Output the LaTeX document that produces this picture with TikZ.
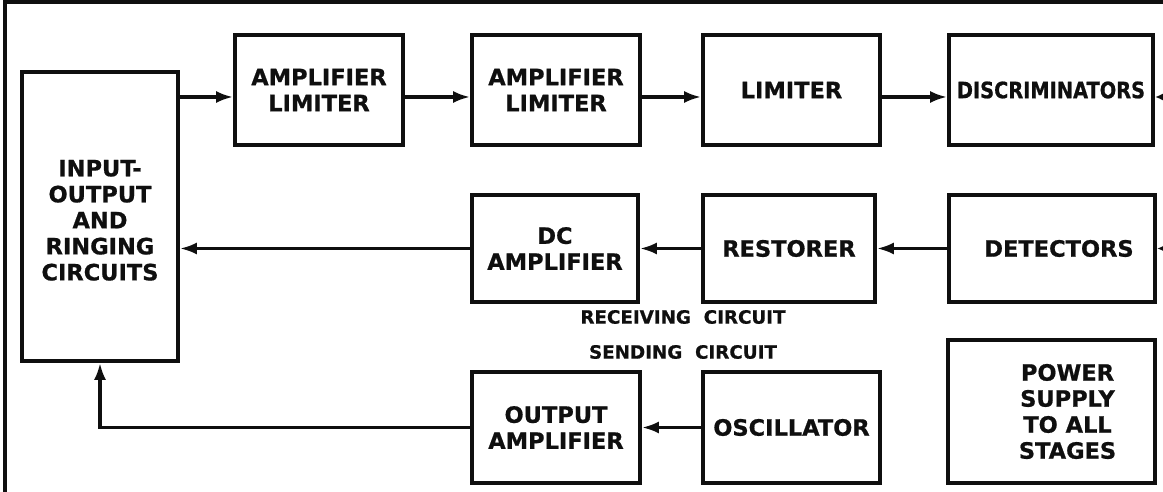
\documentclass[tikz,border=0pt]{standalone}
\usepackage{fontspec}
\usepackage{graphicx}
\setmainfont{DejaVu Sans}[BoldFeatures={FakeBold=0.8}]
\usetikzlibrary{positioning, arrows.meta, calc}
\definecolor{inkblack}{RGB}{15, 15, 15}
\tikzset{
  block/.style={draw=inkblack, line width=2.8pt, rectangle, align=center,
    inner sep=1pt, font=\fontsize{16}{18.5}\selectfont\bfseries, text=inkblack},
  flow/.style={draw=inkblack, line width=2.2pt, -{Latex[length=0.42cm, width=0.3cm]}},
  stub/.style={draw=inkblack, line width=1.8pt, -{Latex[length=0.22cm, width=0.2cm]}},
  tag/.style={font=\fontsize{13}{15}\selectfont\bfseries, text=inkblack},
}

\begin{document}
\begin{tikzpicture}[x=0.025cm, y=0.025cm]
                \useasboundingbox (0,0) rectangle (1163,492);
                % Frame
                \draw[inkblack, line width=2.2pt] (5,0) -- (5,490) -- (1163,490);

                % Blocks
                \node[block, minimum width=3.9cm, minimum height=7.225cm] (io) at (100,275.5) {~\\[-0.05cm]INPUT-\\OUTPUT\\AND\\RINGING\\CIRCUITS};
                \node[block, minimum width=4.2cm, minimum height=2.75cm] (amplim1) at (319,402) {AMPLIFIER\\LIMITER};
                \node[block, minimum width=4.2cm, minimum height=2.75cm] (amplim2) at (556,402) {AMPLIFIER\\LIMITER};
                \node[block, minimum width=4.425cm, minimum height=2.75cm] (lim) at (791.5,402) {LIMITER};
                \node[block, minimum width=5.1cm, minimum height=2.75cm] (disc) at (1051,402) {\raisebox{-0.2cm}{\scalebox{0.86}[1]{DISCRIMINATORS}}};

                \node[block, minimum width=4.15cm, minimum height=2.675cm] (dcamp) at (555,243.5) {DC\\AMPLIFIER};
                \node[block, minimum width=4.3cm, minimum height=2.675cm] (restorer) at (789,243.5) {RESTORER};
                \node[block, minimum width=5.15cm, minimum height=2.675cm] (detect) at (1052,243.5) {\hspace*{0.35cm}DETECTORS};

                \node[block, minimum width=4.2cm, minimum height=2.775cm] (outamp) at (556,64.5) {OUTPUT\\AMPLIFIER};
                \node[block, minimum width=4.425cm, minimum height=2.775cm] (osc) at (791.5,64.5) {OSCILLATOR};
                \node[block, minimum width=5.175cm, minimum height=3.575cm] (power) at (1051.5,80.5) {\hspace*{0.8cm}POWER\\\hspace*{0.8cm}SUPPLY\\\hspace*{0.8cm}TO ALL\\\hspace*{0.8cm}STAGES};

                % Circuit labels
                \node[tag] (recv) at (683,175) {RECEIVING\hspace{0.7em}CIRCUIT};
                \node[tag] (send) at (683,140) {SENDING\hspace{0.7em}CIRCUIT};

                % Receiving chain, top row
                \draw[flow] ([yshift=-0.175cm]io.east |- amplim1.west) -- ([yshift=-0.175cm]amplim1.west);
                \draw[flow] ([yshift=-0.175cm]amplim1.east) -- ([yshift=-0.175cm]amplim2.west);
                \draw[flow] ([yshift=-0.175cm]amplim2.east) -- ([yshift=-0.175cm]lim.west);
                \draw[flow] ([yshift=-0.175cm]lim.east) -- ([yshift=-0.175cm]disc.west);

                % Receiving chain, middle row
                \draw[flow] (detect.west) -- (restorer.east);
                \draw[flow] (restorer.west) -- (dcamp.east);
                \draw[flow] (dcamp.west) -- (dcamp.west -| io.east);

                % Sending chain
                \draw[flow] (osc.west) -- (outamp.east);
                \draw[flow] (outamp.west) -| (io.south);

                % Leads from the right edge
                \coordinate (edge1) at (1163,395);
                \coordinate (edge2) at (1163,243.5);
                \draw[stub] (edge1) -- ([yshift=-0.175cm]disc.east);
                \draw[stub] (edge2) -- (detect.east);
            \end{tikzpicture}
\end{document}
